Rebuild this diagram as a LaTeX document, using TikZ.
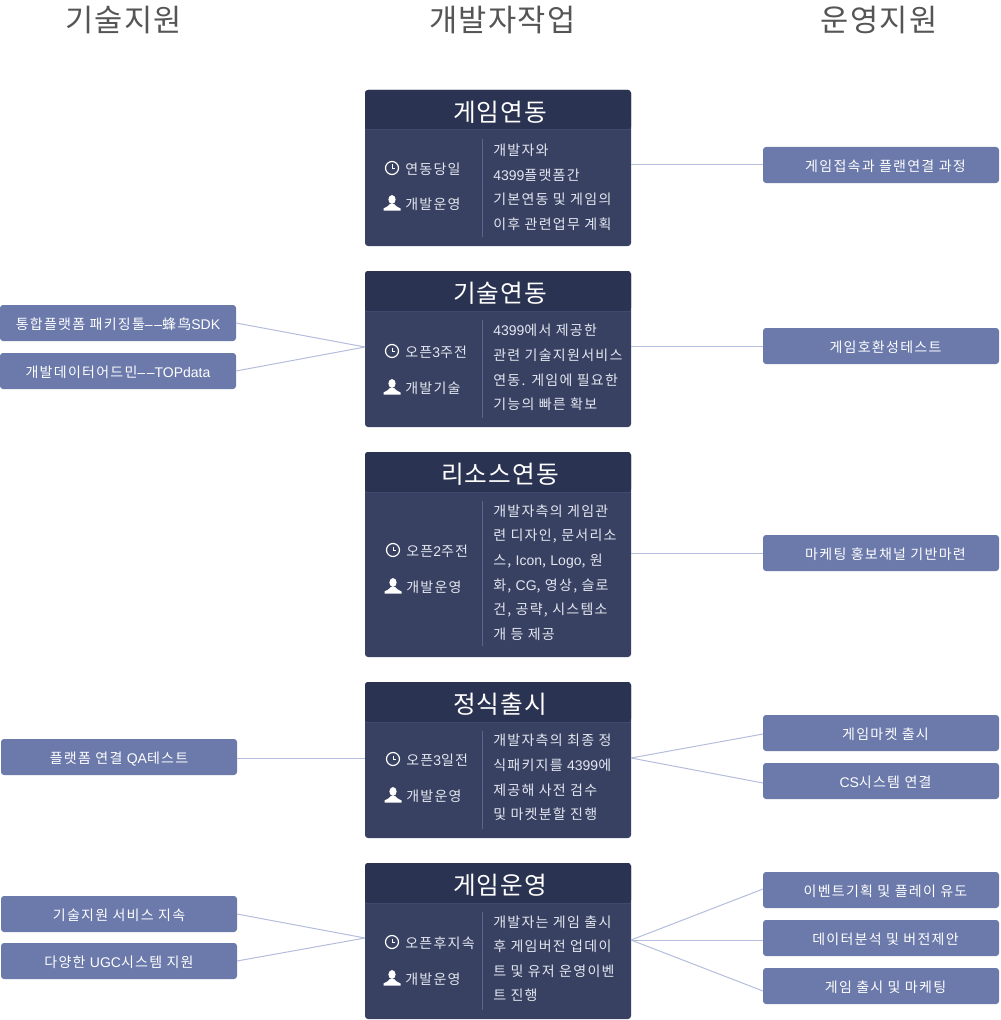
\documentclass[tikz,border=0pt]{standalone}
\usepackage{fontspec}
\setmainfont{Noto Sans CJK KR}
\newfontfamily\cjkbody[LetterSpace=9]{Noto Sans CJK KR}
\newfontfamily\cjktitle[LetterSpace=4]{Noto Sans CJK KR}
\newfontfamily\latinface{Liberation Sans}
\newcommand{\ltn}[1]{{\latinface #1}}
\usetikzlibrary{positioning}
\definecolor{bodyfill}{HTML}{384162}
\definecolor{headfill}{HTML}{2B3352}
\definecolor{headrule}{HTML}{3F4A6E}
\definecolor{midrule}{HTML}{5C6689}
\definecolor{boxfill}{HTML}{6B79AB}
\definecolor{linkcol}{HTML}{B4BEDC}
\definecolor{coltitle}{HTML}{555555}
\definecolor{cardtext}{HTML}{E4E7F0}
\tikzset{
  card/.style={rectangle,fill=bodyfill,rounded corners=2.25pt,minimum width=199.5pt,inner sep=0,outer sep=0,
    path picture={
      \fill [headfill] (path picture bounding box.north west) rectangle ([yshift=-30pt]path picture bounding box.north east);
      \draw [headrule,line width=.75pt] ([yshift=-30pt]path picture bounding box.north west) -- ([yshift=-30pt]path picture bounding box.north east);
    }},
  sidebox/.style={rectangle,fill=boxfill,rounded corners=2.25pt,minimum width=177pt,minimum height=27pt,inner sep=0,outer sep=0,
    text=white,text height=10.5pt,text depth=1.1pt,font=\cjkbody\fontsize{10.5}{12}\selectfont},
  operbox/.style={sidebox,execute at begin node={\hspace*{6.75pt}}},
  coltext/.style={text=coltitle,yshift=-1.2pt,font=\cjktitle\fontsize{23}{26}\selectfont},
  headtext/.style={text=white,yshift=-1.5pt,font=\cjktitle\fontsize{18.5}{20}\selectfont},
  metatext/.style={text=cardtext,anchor=west,inner sep=0,yshift=-.75pt,font=\cjkbody\fontsize{10.5}{12}\selectfont},
  desctext/.style={text=cardtext,anchor=west,align=left,inner sep=0,yshift=-.4pt,font=\cjkbody\fontsize{10.5}{18.4}\selectfont},
  divider/.style={midrule,line width=.75pt},
  link/.style={linkcol,line width=.75pt},
  clockicon/.pic={
    \draw [white,line width=.9pt] (0,0) circle [radius=6.5];
    \draw [white,line width=.75pt] (0,-3.5) -- (0,0.5) -- (2.5,0.5);
  },
  usericon/.pic={
    \fill [white] (0,-3.5) ellipse [x radius=3.6,y radius=4.4];
    \fill [white] (-8.5,7.5) -- (-8.5,5.5) .. controls (-6,3.5) and (-3,3.5) .. (-2,1) -- (2,1) .. controls (3,3.5) and (6,3.5) .. (8.5,5.5) -- (8.5,7.5) -- cycle;
  }
}
\begin{document}
\begin{tikzpicture}[x=.75pt,y=-.75pt]
  \useasboundingbox (0,0) rectangle (1000,1020);

  % Columns
  \node [coltext] (colleft) at (123.5,18) {기술지원};
  \node [coltext] (colmid) at (502.5,18) {개발자작업};
  \node [coltext] (colright) at (879,18) {운영지원};

  % Cards
  \node [card,minimum height=117pt] (card1) at (498,168) {};
  \node [card,minimum height=117pt] (card2) at (498,349) {};
  \node [card,minimum height=153.75pt] (card3) at (498,554.5) {};
  \node [card,minimum height=117pt] (card4) at (498,760) {};
  \node [card,minimum height=117pt] (card5) at (498,941) {};

  % Card titles
  \node [headtext] (head1) at (500,110) {게임연동};
  \node [headtext] (head2) at (500,291) {기술연동};
  \node [headtext] (head3) at (500,472) {리소스연동};
  \node [headtext] (head4) at (500,702) {정식출시};
  \node [headtext] (head5) at (500,883) {게임운영};

  % Dividers
  \draw [divider] (482.5,139) -- (482.5,237);
  \draw [divider] (482.5,320) -- (482.5,418);
  \draw [divider] (482.5,501) -- (482.5,646);
  \draw [divider] (482.5,731) -- (482.5,829);
  \draw [divider] (482.5,912) -- (482.5,1010);

  % Schedule and owner
  \pic at (392,168) {clockicon};
  \pic at (392,203) {usericon};
  \node [metatext] (time1) at (405,168) {연동당일};
  \node [metatext] (role1) at (405,203) {개발운영};
  \pic at (392,351) {clockicon};
  \pic at (392,387) {usericon};
  \node [metatext] (time2) at (405,351) {오픈\ltn{3}주전};
  \node [metatext] (role2) at (405,387) {개발기술};
  \pic at (393,550) {clockicon};
  \pic at (393,586) {usericon};
  \node [metatext] (time3) at (406,550) {오픈\ltn{2}주전};
  \node [metatext] (role3) at (406,586) {개발운영};
  \pic at (393,759) {clockicon};
  \pic at (393,795) {usericon};
  \node [metatext] (time4) at (406,759) {오픈\ltn{3}일전};
  \node [metatext] (role4) at (406,795) {개발운영};
  \pic at (392,942) {clockicon};
  \pic at (392,978) {usericon};
  \node [metatext] (time5) at (405,942) {오픈후지속};
  \node [metatext] (role5) at (405,978) {개발운영};

  % Descriptions
  \node [desctext] (desc1) at (493,186.5) {개발자와\\\ltn{4399}플랫폼간\\기본연동 및 게임의\\이후 관련업무 계획};
  \node [desctext] (desc2) at (493,367) {\ltn{4399}에서 제공한\\관련 기술지원서비스\\연동. 게임에 필요한\\기능의 빠른 확보};
  \node [desctext] (desc3) at (493,572) {개발자측의 게임관\\련 디자인, 문서리소\\스, \ltn{Icon}, \ltn{Logo}, 원\\화, \ltn{CG}, 영상, 슬로\\건, 공략, 시스템소\\개 등 제공};
  \node [desctext] (desc4) at (493,777) {개발자측의 최종 정\\식패키지를 \ltn{4399}에\\제공해 사전 검수\\및 마켓분할 진행};
  \node [desctext] (desc5) at (493,958) {개발자는 게임 출시\\후 게임버전 업데이\\트 및 유저 운영이벤\\트 진행};

  % Left boxes
  \node [sidebox] (tool1) at (118,323) {통합플랫폼 패키징툴\ltn{–\kern1.2pt–}蜂鸟\ltn{SDK}};
  \node [sidebox] (tool2) at (118,371) {개발데이터어드민\ltn{–\kern1.2pt–TOPdata}};
  \node [sidebox] (tool3) at (119,757) {플랫폼 연결 \ltn{QA}테스트};
  \node [sidebox] (tool4) at (119,914) {기술지원 서비스 지속};
  \node [sidebox] (tool5) at (119,961) {다양한 \ltn{UGC}시스템 지원};

  % Right boxes
  \node [operbox] (oper1) at (881,165) {게임접속과 플랜연결 과정};
  \node [operbox] (oper2) at (881,346) {게임호환성테스트};
  \node [operbox] (oper3) at (881,553) {마케팅 홍보채널 기반마련};
  \node [operbox] (oper4) at (881,733) {게임마켓 출시};
  \node [operbox] (oper5) at (881,781) {\ltn{CS}시스템 연결};
  \node [operbox] (oper6) at (881,890) {이벤트기획 및 플레이 유도};
  \node [operbox] (oper7) at (881,938) {데이터분석 및 버전제안};
  \node [operbox] (oper8) at (881,986) {게임 출시 및 마케팅};

  % Edges
  \draw [link] (card1.east |- oper1.west) -- (oper1.west);
  \draw [link] (card2.east |- oper2.west) -- (oper2.west);
  \draw [link] (card3.east |- oper3.west) -- (oper3.west);
  \draw [link] ([yshift=1.5pt]card4.east) -- ([yshift=-.75pt]oper4.west);
  \draw [link] ([yshift=1.5pt]card4.east) -- ([yshift=-1.5pt]oper5.west);
  \draw [link] ([yshift=1.5pt]card4.west) -- ([yshift=-.75pt]tool3.east);
  \draw [link] ([yshift=1.5pt]card2.west) -- (tool1.east);
  \draw [link] ([yshift=1.5pt]card2.west) -- (tool2.east);
  \draw [link] ([yshift=2.25pt]card5.west) -- (tool4.east);
  \draw [link] ([yshift=2.25pt]card5.west) -- (tool5.east);
  \draw [link] ([yshift=.75pt]card5.east) -- ([yshift=.75pt]oper6.west);
  \draw [link] ([yshift=.75pt]card5.east) -- ([yshift=-1.5pt]oper7.west);
  \draw [link] ([yshift=.75pt]card5.east) -- ([yshift=-3.75pt]oper8.west);
\end{tikzpicture}
\end{document}
